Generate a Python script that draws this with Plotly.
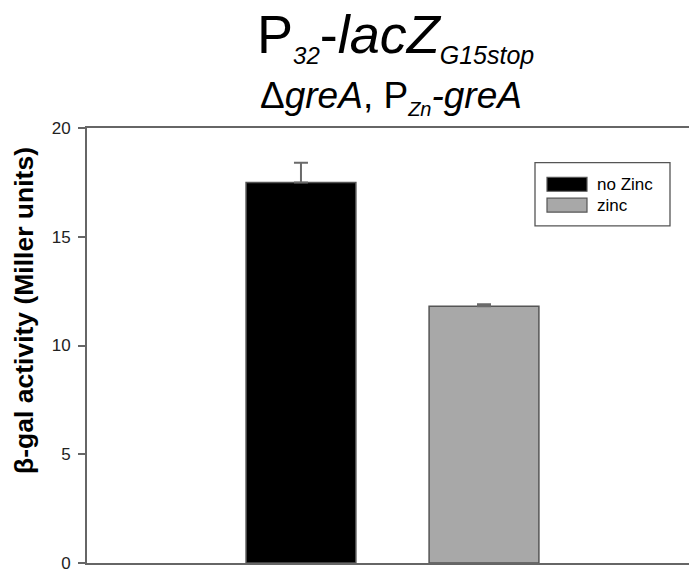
import plotly.graph_objects as go

# ---- data ----
categories = ["no Zinc", "zinc"]
values = [17.5, 11.8]
errors_up = [0.9, 0.1]
fill_colors = ["#000000", "#a8a8a8"]
line_colors = ["#555555", "#555555"]
y_ticks = [0, 5, 10, 15, 20]

FONT = "Liberation Sans, Arial, sans-serif"
W, H = 689, 573
L, R, T, B = 87, 0, 128, 5

def px(x):
    return (x - L) / (W - L - R)

def py(y):
    return (H - B - y) / (H - T - B)

fig = go.Figure()
for i, (c, v, e) in enumerate(zip(categories, values, errors_up)):
    fig.add_trace(go.Bar(
        x=[c], y=[v], width=0.6,
        marker=dict(color=fill_colors[i], line=dict(color=line_colors[i], width=1.5)),
        error_y=dict(type="data", symmetric=False, array=[e], arrayminus=[0],
                     color="#6a6a6a", thickness=2, width=7),
        showlegend=False, name=c,
    ))

shapes = []
annotations = []
# legend box
shapes.append(dict(type="rect", xref="paper", yref="paper",
                   x0=px(535), x1=px(670), y0=py(227), y1=py(163),
                   line=dict(color="#555555", width=1.3), fillcolor="white", layer="above"))
sw_y = [(178, 192), (199, 213)]
for i, c in enumerate(categories):
    y0, y1 = sw_y[i]
    shapes.append(dict(type="rect", xref="paper", yref="paper",
                       x0=px(547), x1=px(587), y0=py(y1), y1=py(y0),
                       line=dict(color="#555555", width=1.2), fillcolor=fill_colors[i], layer="above"))
    annotations.append(dict(text=c, xref="paper", yref="paper", x=px(595), y=py((y0 + y1) / 2),
                            xanchor="left", yanchor="middle", showarrow=False,
                            font=dict(family=FONT, size=17, color="#000000")))

# titles
annotations.append(dict(
    text='P<sub><i><span style="font-size:24px">32</span></i></sub>-<i>lacZ</i><sub><i><span style="font-size:25px">G15stop</span></i></sub>',
    xref="paper", yref="paper", x=px(395), y=py(70), xanchor="center", yanchor="bottom",
    showarrow=False, font=dict(family=FONT, size=54, color="#000000")))
annotations.append(dict(
    text='Δ<i>greA</i>, P<sub><i><span style="font-size:20px">Zn</span></i></sub><i>-greA</i>',
    xref="paper", yref="paper", x=px(391), y=py(122), xanchor="center", yanchor="bottom",
    showarrow=False, font=dict(family=FONT, size=37, color="#000000")))
annotations.append(dict(
    text="<b>β-gal activity (Miller units)</b>", textangle=-90,
    xref="paper", yref="paper", x=px(24), y=py(313), xanchor="center", yanchor="middle",
    showarrow=False, font=dict(family=FONT, size=26.5, color="#000000")))

fig.update_layout(
    width=W, height=H,
    margin=dict(l=L, r=R, t=T, b=B),
    paper_bgcolor="white", plot_bgcolor="white",
    barmode="overlay",
    shapes=shapes, annotations=annotations,
    font=dict(family=FONT),
)
fig.update_xaxes(type="category", categoryorder="array", categoryarray=categories,
                 range=[-1.169, 2.12], showticklabels=False, ticks="",
                 showline=True, linecolor="#666666", linewidth=2, mirror=True,
                 showgrid=False, zeroline=False)
fig.update_yaxes(range=[0, 20], tickvals=y_ticks, ticks="outside", ticklen=7,
                 tickcolor="#666666", tickwidth=1.5,
                 showline=True, linecolor="#666666", linewidth=2,
                 showgrid=False, zeroline=False, ticklabelstandoff=4,
                 ticklabeloverflow="allow",
                 tickfont=dict(family=FONT, size=17, color="#222222"))

fig.write_html("out.html")
